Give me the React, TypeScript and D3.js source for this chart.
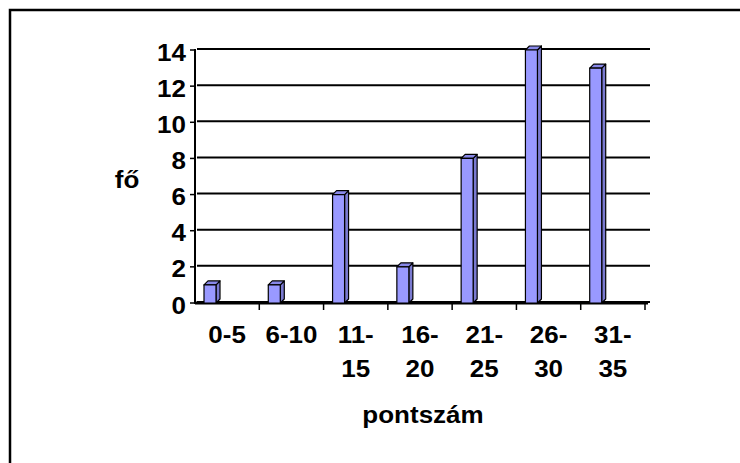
import React from "react";
import * as d3 from "d3";

const categories = ["0-5", "6-10", "11-15", "16-20", "21-25", "26-30", "31-35"];
const labelLines = [["0-5"], ["6-10"], ["11-", "15"], ["16-", "20"], ["21-", "25"], ["26-", "30"], ["31-", "35"]];
const values = [1, 1, 6, 2, 8, 14, 13];
const yTicks = [0, 2, 4, 6, 8, 10, 12, 14];
const yTitle = "fő";
const xTitle = "pontszám";

const font = "'Liberation Sans', Arial, sans-serif";
const fs = 23;
const sx = 1.13;

function Label({ x, y, anchor, children }: { x: number; y: number; anchor: string; children: React.ReactNode }) {
  return (
    <text
      transform={`translate(${x},${y}) scale(${sx},1)`}
      textAnchor={anchor}
      fontFamily={font}
      fontWeight="bold"
      fontSize={fs}
    >
      {children}
    </text>
  );
}

export default function App() {
  const W = 740, H = 463;
  const x0 = 195, x1 = 645, yBase = 303, yTop = 50;
  const x = d3.scaleBand<string>().domain(categories).range([x0, x1]).paddingInner(0).paddingOuter(0);
  const y = d3.scaleLinear().domain([0, 14]).range([yBase, yTop]);
  const bw = x.bandwidth();
  const barOff = 9, barW = 12, d = 4;
  return (
    <svg width={W} height={H} style={{ position: "absolute", left: 0, top: 0 }}>
      <rect x={0} y={0} width={W} height={H} fill="white" />
      <rect x={10} y={10} width={W + 20} height={H + 20} fill="white" stroke="black" strokeWidth={2.5} />
      {/* gridlines */}
      {yTicks.map((t) => (
        <line key={"g" + t} x1={x0 + 2} x2={x1 + 5} y1={y(t) - 1} y2={y(t) - 1} stroke="black" strokeWidth={2} />
      ))}
      {/* y axis */}
      <line x1={x0} x2={x0} y1={yTop - 1} y2={yBase + 1} stroke="black" strokeWidth={2} />
      {yTicks.map((t) => (
        <line key={"yt" + t} x1={x0 - 5} x2={x0} y1={y(t)} y2={y(t)} stroke="black" strokeWidth={1.5} />
      ))}
      {yTicks.map((t) => (
        <Label key={"yl" + t} x={x0 - 9} y={y(t) + 10.5} anchor="end">
          {t}
        </Label>
      ))}
      {/* floor line */}
      <line x1={x0} x2={x1 + 3} y1={yBase} y2={yBase} stroke="black" strokeWidth={3} />
      {categories.map((c, i) => (
        <line key={"xt" + i} x1={(x(c) as number) + bw} x2={(x(c) as number) + bw} y1={yBase} y2={yBase + 7} stroke="black" strokeWidth={1.5} />
      ))}
      {/* bars */}
      {categories.map((c, i) => {
        const bx = (x(c) as number) + barOff;
        const by = y(values[i]);
        return (
          <g key={"b" + i} stroke="black" strokeWidth={1.2} strokeLinejoin="round">
            <polygon points={`${bx + barW},${by} ${bx + barW + d},${by - d} ${bx + barW + d},${yBase - d} ${bx + barW},${yBase}`} fill="#7a7ad0" />
            <polygon points={`${bx},${by} ${bx + d},${by - d} ${bx + barW + d},${by - d} ${bx + barW},${by}`} fill="#8888e8" />
            <rect x={bx} y={by} width={barW} height={yBase - by} fill="#9999FF" />
          </g>
        );
      })}
      {/* x labels */}
      {categories.map((c, i) =>
        labelLines[i].map((ln, j) => (
          <Label key={"xl" + i + "_" + j} x={(x(c) as number) + bw / 2} y={343 + j * 34} anchor="middle">
            {ln}
          </Label>
        ))
      )}
      <Label x={127} y={188} anchor="middle">
        {yTitle}
      </Label>
      <Label x={423} y={423} anchor="middle">
        {xTitle}
      </Label>
    </svg>
  );
}
